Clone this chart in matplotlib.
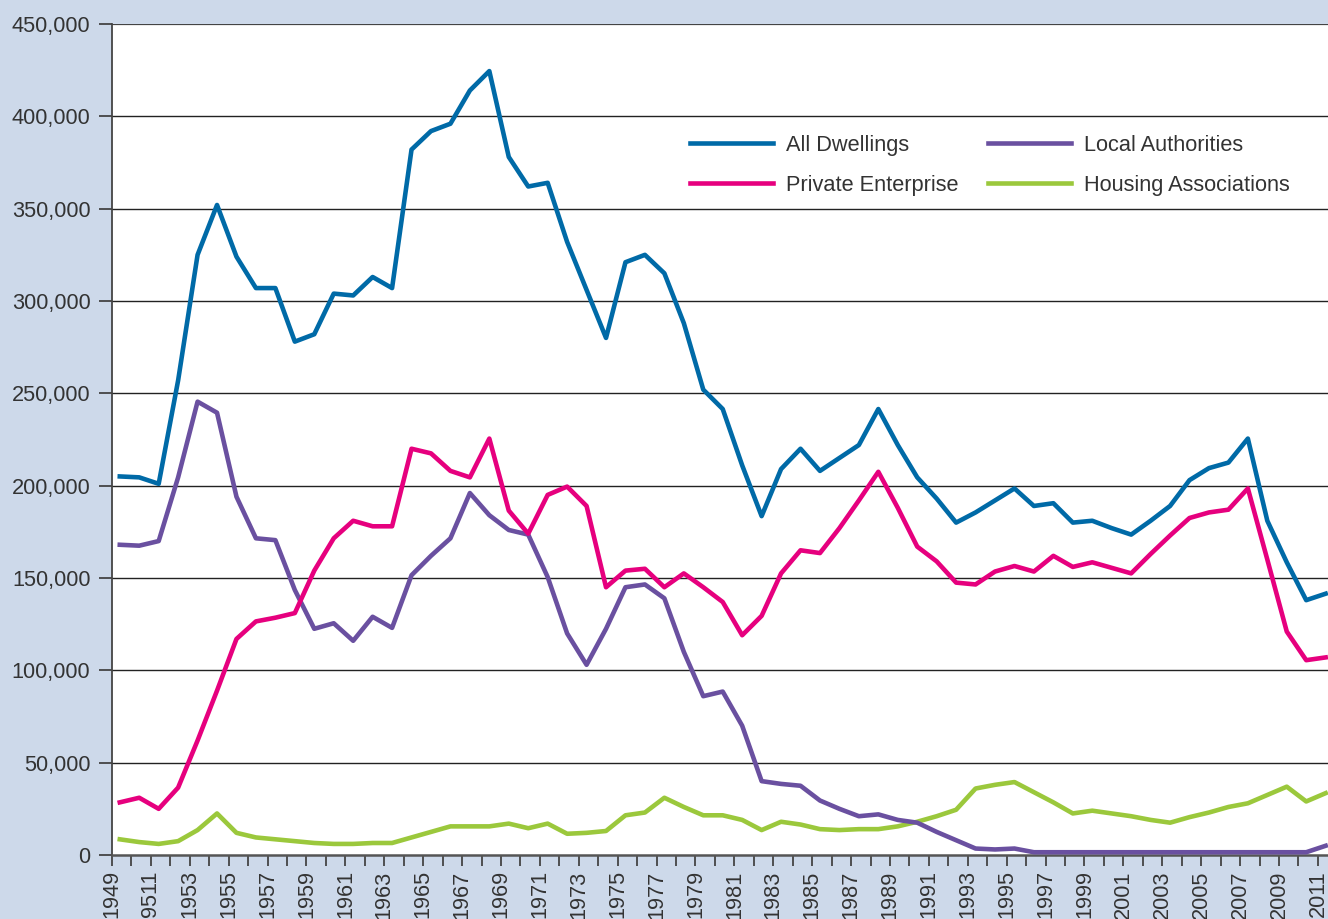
import numpy as np
import matplotlib
matplotlib.use('Agg')
import matplotlib.pyplot as plt

plt.rcParams['font.family'] = ['Liberation Sans', 'DejaVu Sans']

# Data
years = list(range(1949, 2012))

all_dwellings = [205000, 204500, 201000, 257000, 325000, 352000, 324000, 307000, 307000, 278000,
                 282000, 304000, 303000, 313000, 307000, 382000, 392000, 396000, 414000, 424500,
                 378000, 362000, 364000, 332000, 306000, 280000, 321000, 325000, 315000, 288000,
                 252000, 241500, 211000, 183500, 209000, 220000, 208000, 215000, 222000, 241500,
                 222000, 204500, 193000, 180000, 185500, 192000, 198500, 189000, 190500, 180000,
                 181000, 177000, 173500, 181000, 189000, 203000, 209500, 212500, 225500, 181000,
                 158500, 138000, 141500]

private_enterprise = [28500, 31000, 25000, 36500, 62000, 89000, 117000, 126500, 128500, 131000,
                      154000, 171500, 181000, 178000, 178000, 220000, 217500, 208000, 204500, 225500,
                      186500, 174000, 195000, 199500, 189000, 145000, 154000, 155000, 145000, 152500,
                      145000, 137000, 119000, 129500, 152500, 165000, 163500, 177000, 192000, 207500,
                      188000, 167000, 159000, 147500, 146500, 153500, 156500, 153500, 162000, 156000,
                      158500, 155500, 152500, 163000, 173000, 182500, 185500, 187000, 198500, 160000,
                      121000, 105500, 107000]

local_authorities = [168000, 167500, 170000, 204500, 245500, 239500, 194000, 171500, 170500, 143500,
                     122500, 125500, 116000, 129000, 123000, 151500, 162000, 171500, 196000, 184000,
                     176000, 173500, 150500, 120000, 103000, 122500, 145000, 146500, 139000, 110000,
                     86000, 88500, 70000, 40000, 38500, 37500, 29500, 25000, 21000, 22000,
                     19000, 17500, 12500, 8000, 3500, 3000, 3500, 1500, 1500, 1500,
                     1500, 1500, 1500, 1500, 1500, 1500, 1500, 1500, 1500, 1500,
                     1500, 1500, 5000]

housing_associations = [8500, 7000, 6000, 7500, 13500, 22500, 12000, 9500, 8500, 7500,
                        6500, 6000, 6000, 6500, 6500, 9500, 12500, 15500, 15500, 15500,
                        17000, 14500, 17000, 11500, 12000, 13000, 21500, 23000, 31000, 26000,
                        21500, 21500, 19000, 13500, 18000, 16500, 14000, 13500, 14000, 14000,
                        15500, 18000, 21000, 24500, 36000, 38000, 39500, 34000, 28500, 22500,
                        24000, 22500, 21000, 19000, 17500, 20500, 23000, 26000, 28000, 32500,
                        37000, 29000, 33500]

# label text as it appears on the original axis
tick_labels = [str(y) if y % 2 == 1 else '' for y in years]
tick_labels[2] = '9511'

bg = '#cdd9ea'
text_col = '#333333'
fs = 15.7

fig = plt.figure(figsize=(13.28, 9.19), dpi=100, facecolor=bg)
ax = fig.add_axes([112 / 1328, 1 - 855 / 919, 1 - 112 / 1328, (855 - 24) / 919])
ax.set_facecolor('white')

lw = 3.3
ax.plot(years, all_dwellings, color='#006aa7', lw=lw, label='All Dwellings', zorder=5)
ax.plot(years, private_enterprise, color='#e6007e', lw=lw, label='Private Enterprise', zorder=4)
ax.plot(years, local_authorities, color='#6a50a0', lw=lw, label='Local Authorities', zorder=3)
ax.plot(years, housing_associations, color='#9bc83c', lw=lw, label='Housing Associations', zorder=2)

# ticks sit a little to the left of the data points
offset = 0.4
ax.set_xlim(years[0] - offset, years[0] - offset + 62.52)
ax.set_ylim(0, 450000)

ax.set_xticks(np.array(years) - offset)
ax.set_xticklabels(tick_labels, rotation=90, va='top', ha='center')
yt = np.arange(0, 450001, 50000)
ax.set_yticks(yt)
ax.set_yticklabels([f'{v:,}' for v in yt])

ax.tick_params(axis='x', length=8, width=1.3, color='#444444', pad=3,
               labelsize=fs, labelcolor=text_col, direction='out')
ax.tick_params(axis='y', length=9.5, width=1.3, color='#444444', pad=6,
               labelsize=fs, labelcolor=text_col, direction='out')

for v in yt[1:]:
    ax.axhline(v, color='#444444' if v == 450000 else '#222222',
               lw=1.6 if v == 450000 else 1.0, zorder=1)

for s in ['top', 'right']:
    ax.spines[s].set_visible(False)
ax.spines['left'].set_color('#444444')
ax.spines['left'].set_linewidth(1.3)
ax.spines['bottom'].set_color('#555555')
ax.spines['bottom'].set_linewidth(1.8)

leg = fig.legend(loc='upper left', bbox_to_anchor=(690 / 1328, 1 - 135 / 919),
                 ncol=2, frameon=False, fontsize=fs, handlelength=3.8,
                 handletextpad=0.6, columnspacing=1.35, labelspacing=0.85,
                 borderpad=0, borderaxespad=0)
for t in leg.get_texts():
    t.set_color(text_col)

plt.savefig('out.png', dpi=100, facecolor=bg)
